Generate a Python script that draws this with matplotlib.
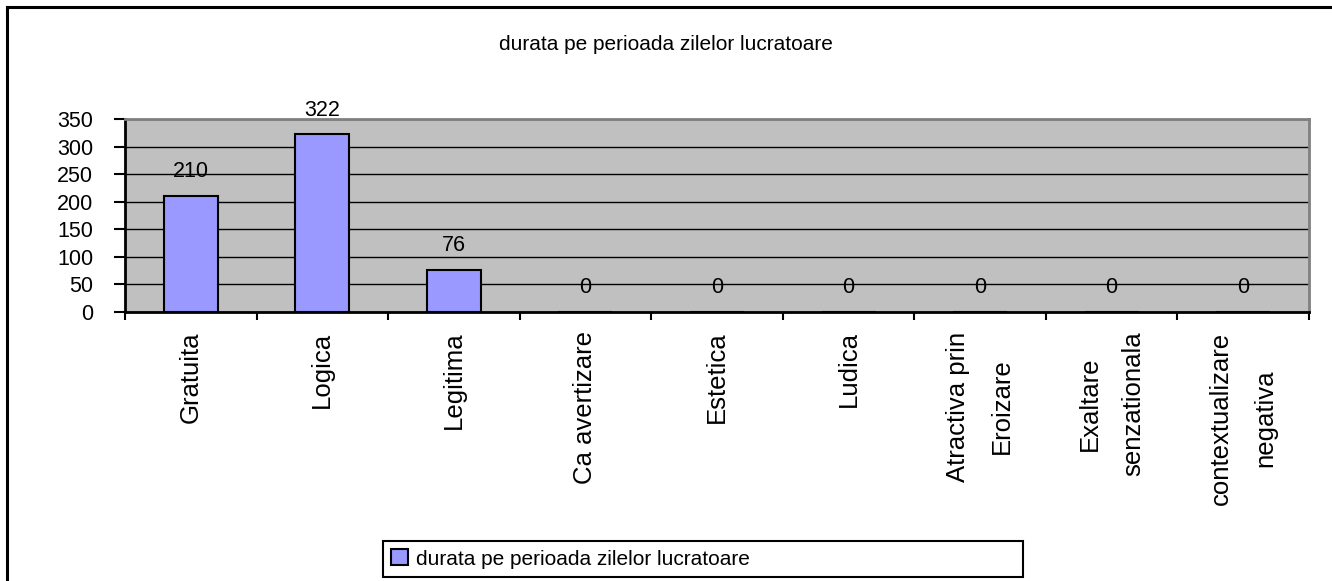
import matplotlib
matplotlib.use("Agg")
import matplotlib.pyplot as plt
from matplotlib.lines import Line2D

categories = ["Gratuita", "Logica", "Legitima", "Ca avertizare", "Estetica",
              "Ludica", "Atractiva prin\nEroizare", "Exaltare\nsenzationala",
              "contextualizare\nnegativa"]
values = [210, 322, 76, 0, 0, 0, 0, 0, 0]
yticks = [0, 50, 100, 150, 200, 250, 300, 350]
series_name = "durata pe perioada zilelor lucratoare"
title = "durata pe perioada zilelor lucratoare"

plt.rcParams['font.family'] = ['Liberation Sans', 'DejaVu Sans']

W, H = 1332, 581
fig = plt.figure(figsize=(W / 100, H / 100), dpi=100)
fig.patch.set_facecolor('white')

ax = fig.add_axes([125 / W, 1 - 312 / H, (1309 - 125) / W, (312 - 119) / H])
ax.set_facecolor('#C0C0C0')

x = [i + 0.5 for i in range(len(categories))]
bars = ax.bar(x, values, width=0.41, color='#9999FF', edgecolor='black',
              linewidth=1.5, zorder=3, label=series_name)

ax.set_xlim(0, len(categories))
ax.set_ylim(0, 350)
ax.set_yticks(yticks)
ax.set_yticklabels([str(v) for v in yticks], fontsize=15.5)
ax.yaxis.grid(True, color='black', linewidth=1.0, zorder=1)
ax.set_axisbelow(True)

ax.set_xticks(range(len(categories) + 1))
ax.set_xticklabels([])
ax.set_xticks(x, minor=True)
ax.set_xticklabels(categories, minor=True, rotation=90, fontsize=18.5,
                   va='top', ha='center', multialignment='center',
                   linespacing=2.05)
ax.tick_params(axis='x', which='major', length=6, width=1.5, direction='out')
ax.tick_params(axis='x', which='minor', length=0, pad=14)
ax.tick_params(axis='y', length=8, width=1.5, direction='out', pad=15)

for s in ['left', 'bottom']:
    ax.spines[s].set_color('black')
    ax.spines[s].set_linewidth(2)
for s in ['top', 'right']:
    ax.spines[s].set_color('#808080')
    ax.spines[s].set_linewidth(2)

for xi, v in zip(x, values):
    ax.annotate(str(v), (xi, v), xytext=(0, 13.5), textcoords='offset points',
                ha='center', va='baseline', fontsize=15.5, zorder=5)

fig.text(0.5, 1 - 45 / H, title, ha='center', va='center', fontsize=15)

leg = fig.legend(handles=[bars], labels=[series_name],
                 bbox_to_anchor=(383 / W, 1 - 577 / H, 640 / W, 36 / H),
                 bbox_transform=fig.transFigure, loc='center', mode='expand',
                 borderaxespad=0, fontsize=15, frameon=True, fancybox=False,
                 handlelength=0.8, handleheight=0.8, handletextpad=0.4,
                 borderpad=0.4)
leg.get_frame().set_edgecolor('black')
leg.get_frame().set_linewidth(1.5)
leg.get_frame().set_alpha(1)

# outer chart border (left and top visible)
fig.add_artist(Line2D([7 / W, 7 / W], [0, 1 - 7 / H], color='black',
                      linewidth=2.2, transform=fig.transFigure))
fig.add_artist(Line2D([7 / W, 1], [1 - 7 / H, 1 - 7 / H], color='black',
                      linewidth=2.2, transform=fig.transFigure))

fig.savefig('out.png', dpi=100)
